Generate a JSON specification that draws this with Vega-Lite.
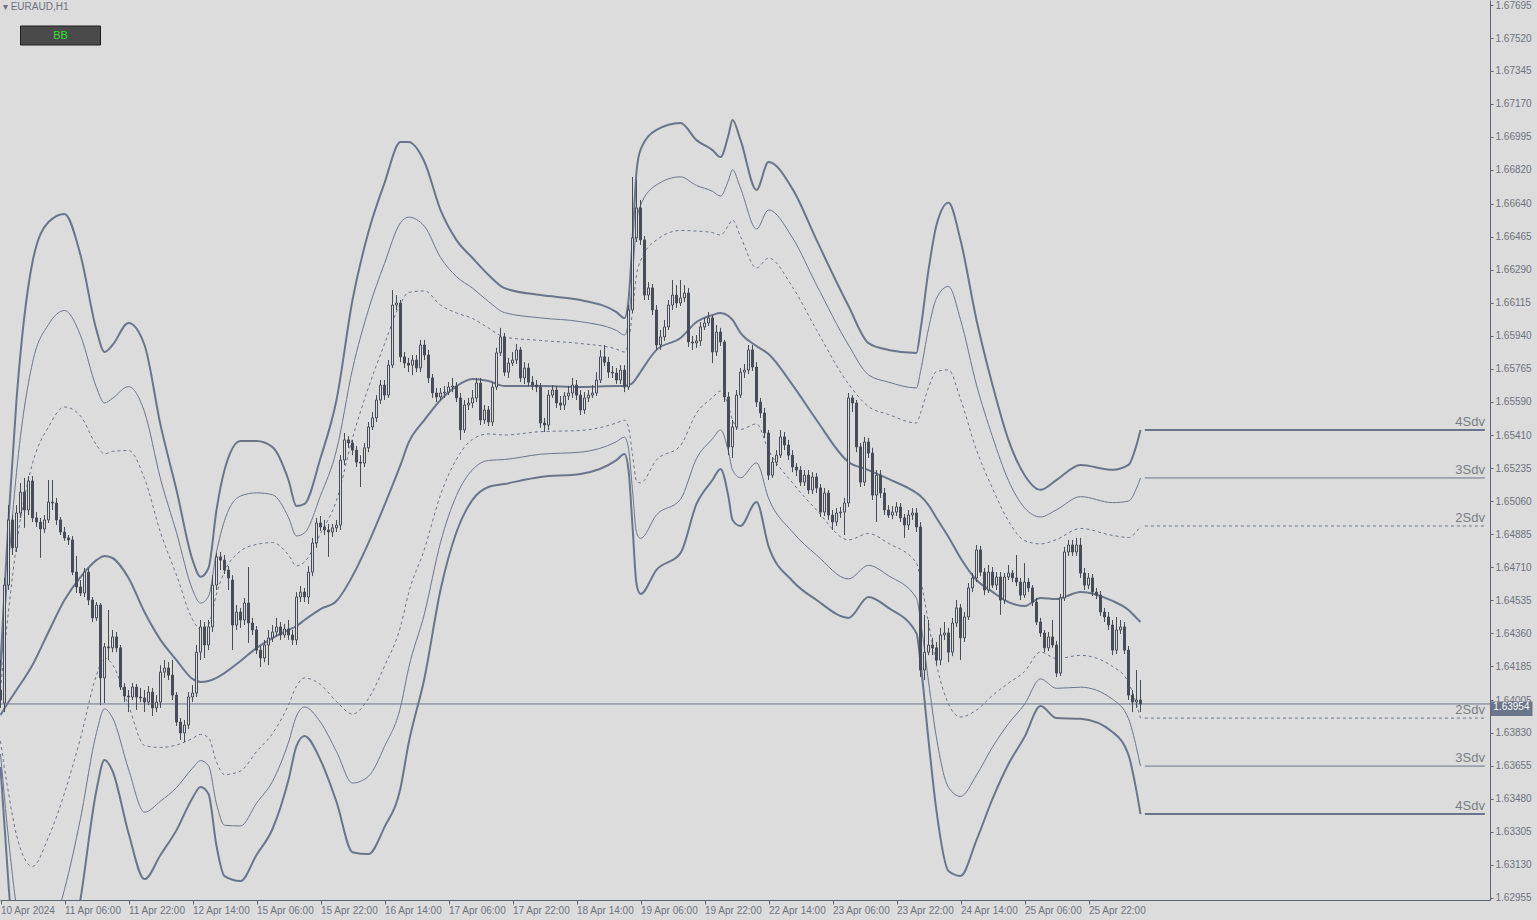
{
"$schema":"https://vega.github.io/schema/vega-lite/v6.json",
"width":1490,"height":900,
"autosize":{"type":"none"},
"padding":{"left":0,"top":0,"right":47,"bottom":20},
"background":"#dcdcdc",
"config":{"view":{"stroke":null},"font":"Liberation Sans","text":{"font":"Liberation Sans"},
 "scale":{"continuousPadding":0},
 "axis":{"labelOverlap":false,"labelSeparation":0,"labelFlush":false,"labelBound":false,"grid":false,"title":null,"labelFont":"Liberation Sans","labelFontSize":10,"labelColor":"#6e727b","tickColor":"#5d6270","domainColor":"#5d6270"}},
"datasets":{
"bands":[
{"t":0,"u4":1.64201,"u3":1.64132,"u2":1.64063,"m":1.63925,"l2":1.63787,"l3":1.63718,"l4":1.63649},
{"t":2,"u4":1.64960,"u3":1.64719,"u2":1.64477,"m":1.63994,"l2":1.63511,"l3":1.63269,"l4":1.63028},
{"t":4,"u4":1.65598,"u3":1.65213,"u2":1.64828,"m":1.64058,"l2":1.63288,"l3":1.62903,"l4":1.62518},
{"t":8,"u4":1.66331,"u3":1.65796,"u2":1.65261,"m":1.64191,"l2":1.63121,"l3":1.62586,"l4":1.62051},
{"t":12,"u4":1.66543,"u3":1.65999,"u2":1.65455,"m":1.64366,"l2":1.63277,"l3":1.62733,"l4":1.62189},
{"t":16,"u4":1.66586,"u3":1.66073,"u2":1.65561,"m":1.64536,"l2":1.63511,"l3":1.62999,"l4":1.62486},
{"t":20,"u4":1.66368,"u3":1.65941,"u2":1.65513,"m":1.64658,"l2":1.63803,"l3":1.63376,"l4":1.62948},
{"t":24,"u4":1.65969,"u3":1.65664,"u2":1.65359,"m":1.64748,"l2":1.64137,"l3":1.63832,"l4":1.63527},
{"t":26,"u4":1.65853,"u3":1.65582,"u2":1.65312,"m":1.64770,"l2":1.64228,"l3":1.63958,"l4":1.63687},
{"t":28,"u4":1.65890,"u3":1.65607,"u2":1.65325,"m":1.64759,"l2":1.64193,"l3":1.63911,"l4":1.63628},
{"t":32,"u4":1.66007,"u3":1.65669,"u2":1.65330,"m":1.64653,"l2":1.63976,"l3":1.63638,"l4":1.63299},
{"t":36,"u4":1.65890,"u3":1.65535,"u2":1.65181,"m":1.64472,"l2":1.63763,"l3":1.63409,"l4":1.63054},
{"t":40,"u4":1.65466,"u3":1.65180,"u2":1.64895,"m":1.64324,"l2":1.63753,"l3":1.63468,"l4":1.63182},
{"t":44,"u4":1.65120,"u3":1.64894,"u2":1.64668,"m":1.64217,"l2":1.63766,"l3":1.63540,"l4":1.63314},
{"t":48,"u4":1.64749,"u3":1.64591,"u2":1.64433,"m":1.64117,"l2":1.63801,"l3":1.63643,"l4":1.63485},
{"t":50,"u4":1.64659,"u3":1.64519,"u2":1.64380,"m":1.64101,"l2":1.63822,"l3":1.63683,"l4":1.63543},
{"t":52,"u4":1.64706,"u3":1.64556,"u2":1.64406,"m":1.64106,"l2":1.63806,"l3":1.63656,"l4":1.63506},
{"t":54,"u4":1.65014,"u3":1.64791,"u2":1.64568,"m":1.64122,"l2":1.63676,"l3":1.63453,"l4":1.63230},
{"t":56,"u4":1.65226,"u3":1.64957,"u2":1.64687,"m":1.64148,"l2":1.63609,"l3":1.63340,"l4":1.63070},
{"t":60,"u4":1.65380,"u3":1.65088,"u2":1.64796,"m":1.64212,"l2":1.63628,"l3":1.63336,"l4":1.63044},
{"t":64,"u4":1.65380,"u3":1.65105,"u2":1.64831,"m":1.64281,"l2":1.63731,"l3":1.63457,"l4":1.63182},
{"t":68,"u4":1.65348,"u3":1.65095,"u2":1.64841,"m":1.64334,"l2":1.63827,"l3":1.63573,"l4":1.63320},
{"t":72,"u4":1.65173,"u3":1.64974,"u2":1.64775,"m":1.64377,"l2":1.63979,"l3":1.63780,"l4":1.63581},
{"t":74,"u4":1.65035,"u3":1.64876,"u2":1.64717,"m":1.64398,"l2":1.64079,"l3":1.63920,"l4":1.63761},
{"t":76,"u4":1.65046,"u3":1.64892,"u2":1.64738,"m":1.64430,"l2":1.64122,"l3":1.63968,"l4":1.63814},
{"t":80,"u4":1.65290,"u3":1.65090,"u2":1.64889,"m":1.64488,"l2":1.64087,"l3":1.63887,"l4":1.63686},
{"t":84,"u4":1.65598,"u3":1.65331,"u2":1.65065,"m":1.64531,"l2":1.63997,"l3":1.63731,"l4":1.63464},
{"t":88,"u4":1.66129,"u3":1.65762,"u2":1.65396,"m":1.64663,"l2":1.63930,"l3":1.63564,"l4":1.63197},
{"t":92,"u4":1.66491,"u3":1.66078,"u2":1.65665,"m":1.64839,"l2":1.64013,"l3":1.63600,"l4":1.63187},
{"t":96,"u4":1.66750,"u3":1.66323,"u2":1.65895,"m":1.65040,"l2":1.64185,"l3":1.63758,"l4":1.63330},
{"t":100,"u4":1.66968,"u3":1.66539,"u2":1.66111,"m":1.65253,"l2":1.64395,"l3":1.63967,"l4":1.63538},
{"t":102,"u4":1.66968,"u3":1.66569,"u2":1.66169,"m":1.65370,"l2":1.64571,"l3":1.64171,"l4":1.63772},
{"t":106,"u4":1.66862,"u3":1.66520,"u2":1.66177,"m":1.65492,"l2":1.64807,"l3":1.64465,"l4":1.64122},
{"t":110,"u4":1.66607,"u3":1.66355,"u2":1.66102,"m":1.65598,"l2":1.65094,"l3":1.64841,"l4":1.64589},
{"t":114,"u4":1.66447,"u3":1.66253,"u2":1.66060,"m":1.65672,"l2":1.65284,"l3":1.65091,"l4":1.64897},
{"t":118,"u4":1.66352,"u3":1.66192,"u2":1.66031,"m":1.65710,"l2":1.65389,"l3":1.65228,"l4":1.65068},
{"t":122,"u4":1.66262,"u3":1.66121,"u2":1.65980,"m":1.65699,"l2":1.65418,"l3":1.65277,"l4":1.65136},
{"t":126,"u4":1.66192,"u3":1.66062,"u2":1.65932,"m":1.65672,"l2":1.65412,"l3":1.65282,"l4":1.65152},
{"t":135,"u4":1.66155,"u3":1.66034,"u2":1.65914,"m":1.65672,"l2":1.65430,"l3":1.65310,"l4":1.65189},
{"t":145,"u4":1.66129,"u3":1.66014,"u2":1.65898,"m":1.65667,"l2":1.65436,"l3":1.65321,"l4":1.65205},
{"t":154,"u4":1.66065,"u3":1.65967,"u2":1.65868,"m":1.65672,"l2":1.65476,"l3":1.65377,"l4":1.65279},
{"t":156,"u4":1.66033,"u3":1.65943,"u2":1.65853,"m":1.65672,"l2":1.65491,"l3":1.65401,"l4":1.65311},
{"t":157,"u4":1.66129,"u3":1.66016,"u2":1.65904,"m":1.65678,"l2":1.65452,"l3":1.65340,"l4":1.65227},
{"t":158,"u4":1.66447,"u3":1.66257,"u2":1.66068,"m":1.65688,"l2":1.65308,"l3":1.65119,"l4":1.64929},
{"t":159,"u4":1.66809,"u3":1.66536,"u2":1.66262,"m":1.65715,"l2":1.65168,"l3":1.64895,"l4":1.64621},
{"t":160,"u4":1.66926,"u3":1.66631,"u2":1.66336,"m":1.65747,"l2":1.65158,"l3":1.64863,"l4":1.64568},
{"t":164,"u4":1.67032,"u3":1.66740,"u2":1.66448,"m":1.65864,"l2":1.65280,"l3":1.64988,"l4":1.64696},
{"t":170,"u4":1.67069,"u3":1.66783,"u2":1.66498,"m":1.65927,"l2":1.65356,"l3":1.65071,"l4":1.64785},
{"t":174,"u4":1.66978,"u3":1.66737,"u2":1.66495,"m":1.66012,"l2":1.65529,"l3":1.65287,"l4":1.65046},
{"t":178,"u4":1.66925,"u3":1.66706,"u2":1.66487,"m":1.66049,"l2":1.65611,"l3":1.65392,"l4":1.65173},
{"t":180,"u4":1.66888,"u3":1.66681,"u2":1.66474,"m":1.66060,"l2":1.65646,"l3":1.65439,"l4":1.65232},
{"t":182,"u4":1.67005,"u3":1.66765,"u2":1.66525,"m":1.66044,"l2":1.65563,"l3":1.65323,"l4":1.65083},
{"t":183,"u4":1.67085,"u3":1.66820,"u2":1.66554,"m":1.66023,"l2":1.65492,"l3":1.65227,"l4":1.64961},
{"t":185,"u4":1.66979,"u3":1.66723,"u2":1.66466,"m":1.65954,"l2":1.65442,"l3":1.65185,"l4":1.64929},
{"t":189,"u4":1.66713,"u3":1.66506,"u2":1.66299,"m":1.65885,"l2":1.65471,"l3":1.65264,"l4":1.65057},
{"t":192,"u4":1.66862,"u3":1.66607,"u2":1.66352,"m":1.65842,"l2":1.65332,"l3":1.65077,"l4":1.64822},
{"t":198,"u4":1.66719,"u3":1.66459,"u2":1.66198,"m":1.65678,"l2":1.65158,"l3":1.64897,"l4":1.64637},
{"t":204,"u4":1.66448,"u3":1.66209,"u2":1.65970,"m":1.65492,"l2":1.65014,"l3":1.64775,"l4":1.64536},
{"t":212,"u4":1.66097,"u3":1.65890,"u2":1.65683,"m":1.65269,"l2":1.64855,"l3":1.64648,"l4":1.64441},
{"t":217,"u4":1.65900,"u3":1.65732,"u2":1.65563,"m":1.65226,"l2":1.64889,"l3":1.64720,"l4":1.64552},
{"t":222,"u4":1.65864,"u3":1.65693,"u2":1.65521,"m":1.65179,"l2":1.64837,"l3":1.64665,"l4":1.64494},
{"t":229,"u4":1.65848,"u3":1.65662,"u2":1.65476,"m":1.65104,"l2":1.64732,"l3":1.64546,"l4":1.64360},
{"t":230,"u4":1.65970,"u3":1.65749,"u2":1.65529,"m":1.65088,"l2":1.64647,"l3":1.64427,"l4":1.64206},
{"t":232,"u4":1.66288,"u3":1.65976,"u2":1.65664,"m":1.65040,"l2":1.64416,"l3":1.64104,"l4":1.63792},
{"t":234,"u4":1.66527,"u3":1.66138,"u2":1.65749,"m":1.64971,"l2":1.64193,"l3":1.63804,"l4":1.63415},
{"t":237,"u4":1.66645,"u3":1.66201,"u2":1.65758,"m":1.64871,"l2":1.63984,"l3":1.63541,"l4":1.63097},
{"t":240,"u4":1.66447,"u3":1.66025,"u2":1.65603,"m":1.64759,"l2":1.63915,"l3":1.63493,"l4":1.63071},
{"t":244,"u4":1.66023,"u3":1.65678,"u2":1.65332,"m":1.64642,"l2":1.63952,"l3":1.63606,"l4":1.63261},
{"t":248,"u4":1.65678,"u3":1.65403,"u2":1.65129,"m":1.64579,"l2":1.64029,"l3":1.63755,"l4":1.63480},
{"t":252,"u4":1.65385,"u3":1.65170,"u2":1.64955,"m":1.64525,"l2":1.64095,"l3":1.63880,"l4":1.63665},
{"t":256,"u4":1.65200,"u3":1.65026,"u2":1.64852,"m":1.64504,"l2":1.64156,"l3":1.63982,"l4":1.63808},
{"t":260,"u4":1.65121,"u3":1.64977,"u2":1.64834,"m":1.64547,"l2":1.64260,"l3":1.64117,"l4":1.63973},
{"t":264,"u4":1.65173,"u3":1.65015,"u2":1.64857,"m":1.64541,"l2":1.64225,"l3":1.64067,"l4":1.63909},
{"t":270,"u4":1.65253,"u3":1.65085,"u2":1.64916,"m":1.64579,"l2":1.64242,"l3":1.64073,"l4":1.63905},
{"t":278,"u4":1.65227,"u3":1.65053,"u2":1.64879,"m":1.64531,"l2":1.64183,"l3":1.64009,"l4":1.63835},
{"t":282,"u4":1.65253,"u3":1.65061,"u2":1.64868,"m":1.64483,"l2":1.64098,"l3":1.63906,"l4":1.63713},
{"t":284,"u4":1.65359,"u3":1.65129,"u2":1.64899,"m":1.64440,"l2":1.63981,"l3":1.63751,"l4":1.63521},
{"t":285,"u4":1.65439,"u3":1.65184,"u2":1.64929,"m":1.64419,"l2":1.63909,"l3":1.63654,"l4":1.63399}
],
"candles":[
{"t":0,"o":1.64058,"h":1.64217,"l":1.63963,"c":1.64005},
{"t":1,"o":1.63989,"h":1.64653,"l":1.63941,"c":1.64615},
{"t":2,"o":1.64615,"h":1.65040,"l":1.64589,"c":1.64961},
{"t":3,"o":1.64961,"h":1.64987,"l":1.64775,"c":1.64813},
{"t":4,"o":1.64813,"h":1.65040,"l":1.64791,"c":1.64998},
{"t":5,"o":1.64998,"h":1.65157,"l":1.64972,"c":1.65109},
{"t":6,"o":1.65109,"h":1.65184,"l":1.64919,"c":1.65014},
{"t":7,"o":1.65014,"h":1.65194,"l":1.64987,"c":1.65168},
{"t":8,"o":1.65168,"h":1.65194,"l":1.64950,"c":1.64972},
{"t":9,"o":1.64972,"h":1.65003,"l":1.64924,"c":1.64950},
{"t":10,"o":1.64950,"h":1.64972,"l":1.64760,"c":1.64913},
{"t":11,"o":1.64913,"h":1.64987,"l":1.64892,"c":1.64961},
{"t":12,"o":1.64961,"h":1.65173,"l":1.64945,"c":1.65056},
{"t":13,"o":1.65056,"h":1.65173,"l":1.65014,"c":1.65051},
{"t":14,"o":1.65051,"h":1.65078,"l":1.64934,"c":1.64961},
{"t":15,"o":1.64961,"h":1.64977,"l":1.64881,"c":1.64897},
{"t":16,"o":1.64897,"h":1.64924,"l":1.64850,"c":1.64866},
{"t":17,"o":1.64866,"h":1.64881,"l":1.64828,"c":1.64855},
{"t":18,"o":1.64855,"h":1.64876,"l":1.64668,"c":1.64684},
{"t":19,"o":1.64684,"h":1.64770,"l":1.64573,"c":1.64605},
{"t":20,"o":1.64605,"h":1.64642,"l":1.64557,"c":1.64573},
{"t":21,"o":1.64573,"h":1.64706,"l":1.64552,"c":1.64684},
{"t":22,"o":1.64684,"h":1.64706,"l":1.64509,"c":1.64536},
{"t":23,"o":1.64536,"h":1.64552,"l":1.64419,"c":1.64441},
{"t":24,"o":1.64441,"h":1.64525,"l":1.64425,"c":1.64509},
{"t":25,"o":1.64509,"h":1.64520,"l":1.63978,"c":1.64122},
{"t":26,"o":1.64122,"h":1.64308,"l":1.63989,"c":1.64287},
{"t":27,"o":1.64287,"h":1.64483,"l":1.64217,"c":1.64282},
{"t":28,"o":1.64282,"h":1.64377,"l":1.64259,"c":1.64340},
{"t":29,"o":1.64340,"h":1.64366,"l":1.64259,"c":1.64282},
{"t":30,"o":1.64282,"h":1.64297,"l":1.64058,"c":1.64074},
{"t":31,"o":1.64074,"h":1.64095,"l":1.63994,"c":1.64026},
{"t":32,"o":1.64026,"h":1.64058,"l":1.63941,"c":1.64021},
{"t":33,"o":1.64021,"h":1.64095,"l":1.64005,"c":1.64074},
{"t":34,"o":1.64074,"h":1.64090,"l":1.63952,"c":1.64021},
{"t":35,"o":1.64021,"h":1.64069,"l":1.63994,"c":1.64016},
{"t":36,"o":1.64016,"h":1.64058,"l":1.63941,"c":1.63994},
{"t":37,"o":1.63994,"h":1.64079,"l":1.63978,"c":1.64047},
{"t":38,"o":1.64047,"h":1.64069,"l":1.63920,"c":1.63963},
{"t":39,"o":1.63963,"h":1.64031,"l":1.63941,"c":1.63994},
{"t":40,"o":1.63994,"h":1.64190,"l":1.63963,"c":1.64153},
{"t":41,"o":1.64153,"h":1.64217,"l":1.64122,"c":1.64175},
{"t":42,"o":1.64175,"h":1.64206,"l":1.64111,"c":1.64137},
{"t":43,"o":1.64137,"h":1.64217,"l":1.64005,"c":1.64031},
{"t":44,"o":1.64031,"h":1.64047,"l":1.63867,"c":1.63888},
{"t":45,"o":1.63888,"h":1.63910,"l":1.63793,"c":1.63830},
{"t":46,"o":1.63830,"h":1.63899,"l":1.63782,"c":1.63872},
{"t":47,"o":1.63872,"h":1.64047,"l":1.63851,"c":1.64021},
{"t":48,"o":1.64021,"h":1.64084,"l":1.63994,"c":1.64042},
{"t":49,"o":1.64042,"h":1.64297,"l":1.64021,"c":1.64259},
{"t":50,"o":1.64259,"h":1.64430,"l":1.64217,"c":1.64393},
{"t":51,"o":1.64393,"h":1.64419,"l":1.64228,"c":1.64297},
{"t":52,"o":1.64297,"h":1.64430,"l":1.64270,"c":1.64393},
{"t":53,"o":1.64393,"h":1.64668,"l":1.64366,"c":1.64615},
{"t":54,"o":1.64615,"h":1.64786,"l":1.64589,"c":1.64765},
{"t":55,"o":1.64765,"h":1.64791,"l":1.64695,"c":1.64748},
{"t":56,"o":1.64748,"h":1.64775,"l":1.64674,"c":1.64695},
{"t":57,"o":1.64695,"h":1.64716,"l":1.64589,"c":1.64653},
{"t":58,"o":1.64642,"h":1.64668,"l":1.64270,"c":1.64403},
{"t":59,"o":1.64403,"h":1.64509,"l":1.64377,"c":1.64472},
{"t":60,"o":1.64472,"h":1.64494,"l":1.64388,"c":1.64430},
{"t":61,"o":1.64430,"h":1.64547,"l":1.64403,"c":1.64520},
{"t":62,"o":1.64520,"h":1.64711,"l":1.64308,"c":1.64414},
{"t":63,"o":1.64414,"h":1.64441,"l":1.64350,"c":1.64377},
{"t":64,"o":1.64377,"h":1.64398,"l":1.64249,"c":1.64270},
{"t":65,"o":1.64270,"h":1.64292,"l":1.64180,"c":1.64228},
{"t":66,"o":1.64228,"h":1.64324,"l":1.64206,"c":1.64297},
{"t":67,"o":1.64297,"h":1.64377,"l":1.64190,"c":1.64335},
{"t":68,"o":1.64335,"h":1.64403,"l":1.64313,"c":1.64366},
{"t":69,"o":1.64366,"h":1.64441,"l":1.64345,"c":1.64393},
{"t":70,"o":1.64393,"h":1.64419,"l":1.64324,"c":1.64350},
{"t":71,"o":1.64350,"h":1.64409,"l":1.64335,"c":1.64382},
{"t":72,"o":1.64382,"h":1.64430,"l":1.64324,"c":1.64350},
{"t":73,"o":1.64350,"h":1.64377,"l":1.64297,"c":1.64324},
{"t":74,"o":1.64324,"h":1.64578,"l":1.64297,"c":1.64552},
{"t":75,"o":1.64552,"h":1.64610,"l":1.64525,"c":1.64578},
{"t":76,"o":1.64578,"h":1.64600,"l":1.64525,"c":1.64552},
{"t":77,"o":1.64552,"h":1.64716,"l":1.64515,"c":1.64684},
{"t":78,"o":1.64684,"h":1.64866,"l":1.64663,"c":1.64839},
{"t":79,"o":1.64839,"h":1.64972,"l":1.64813,"c":1.64945},
{"t":80,"o":1.64945,"h":1.64982,"l":1.64903,"c":1.64924},
{"t":81,"o":1.64924,"h":1.64961,"l":1.64881,"c":1.64908},
{"t":82,"o":1.64908,"h":1.64940,"l":1.64765,"c":1.64897},
{"t":83,"o":1.64897,"h":1.64940,"l":1.64871,"c":1.64919},
{"t":84,"o":1.64919,"h":1.64961,"l":1.64897,"c":1.64934},
{"t":85,"o":1.64934,"h":1.65305,"l":1.64908,"c":1.65279},
{"t":86,"o":1.65279,"h":1.65423,"l":1.65252,"c":1.65386},
{"t":87,"o":1.65386,"h":1.65407,"l":1.65344,"c":1.65370},
{"t":88,"o":1.65370,"h":1.65386,"l":1.65305,"c":1.65332},
{"t":89,"o":1.65332,"h":1.65354,"l":1.65242,"c":1.65268},
{"t":90,"o":1.65268,"h":1.65305,"l":1.65136,"c":1.65263},
{"t":91,"o":1.65263,"h":1.65370,"l":1.65242,"c":1.65344},
{"t":92,"o":1.65344,"h":1.65481,"l":1.65321,"c":1.65455},
{"t":93,"o":1.65455,"h":1.65534,"l":1.65439,"c":1.65503},
{"t":94,"o":1.65503,"h":1.65624,"l":1.65481,"c":1.65598},
{"t":95,"o":1.65598,"h":1.65704,"l":1.65577,"c":1.65677},
{"t":96,"o":1.65677,"h":1.65704,"l":1.65598,"c":1.65624},
{"t":97,"o":1.65624,"h":1.65810,"l":1.65609,"c":1.65783},
{"t":98,"o":1.65783,"h":1.66182,"l":1.65768,"c":1.66102},
{"t":99,"o":1.66102,"h":1.66155,"l":1.66076,"c":1.66113},
{"t":100,"o":1.66113,"h":1.66129,"l":1.65799,"c":1.65827},
{"t":101,"o":1.65827,"h":1.65853,"l":1.65768,"c":1.65794},
{"t":102,"o":1.65794,"h":1.65822,"l":1.65746,"c":1.65783},
{"t":103,"o":1.65783,"h":1.65837,"l":1.65730,"c":1.65810},
{"t":104,"o":1.65810,"h":1.65837,"l":1.65746,"c":1.65768},
{"t":105,"o":1.65768,"h":1.65917,"l":1.65746,"c":1.65890},
{"t":106,"o":1.65890,"h":1.65917,"l":1.65810,"c":1.65837},
{"t":107,"o":1.65837,"h":1.65864,"l":1.65688,"c":1.65715},
{"t":108,"o":1.65715,"h":1.65736,"l":1.65609,"c":1.65635},
{"t":109,"o":1.65635,"h":1.65662,"l":1.65587,"c":1.65614},
{"t":110,"o":1.65614,"h":1.65662,"l":1.65598,"c":1.65635},
{"t":111,"o":1.65635,"h":1.65672,"l":1.65609,"c":1.65640},
{"t":112,"o":1.65640,"h":1.65693,"l":1.65624,"c":1.65667},
{"t":113,"o":1.65667,"h":1.65715,"l":1.65640,"c":1.65672},
{"t":114,"o":1.65672,"h":1.65693,"l":1.65587,"c":1.65609},
{"t":115,"o":1.65609,"h":1.65635,"l":1.65386,"c":1.65439},
{"t":116,"o":1.65439,"h":1.65598,"l":1.65423,"c":1.65571},
{"t":117,"o":1.65571,"h":1.65609,"l":1.65545,"c":1.65582},
{"t":118,"o":1.65582,"h":1.65651,"l":1.65556,"c":1.65609},
{"t":119,"o":1.65609,"h":1.65715,"l":1.65587,"c":1.65688},
{"t":120,"o":1.65688,"h":1.65715,"l":1.65465,"c":1.65492},
{"t":121,"o":1.65492,"h":1.65571,"l":1.65471,"c":1.65545},
{"t":122,"o":1.65545,"h":1.65566,"l":1.65460,"c":1.65481},
{"t":123,"o":1.65481,"h":1.65693,"l":1.65460,"c":1.65667},
{"t":124,"o":1.65667,"h":1.65875,"l":1.65651,"c":1.65848},
{"t":125,"o":1.65848,"h":1.65981,"l":1.65832,"c":1.65933},
{"t":126,"o":1.65933,"h":1.65954,"l":1.65725,"c":1.65746},
{"t":127,"o":1.65746,"h":1.65822,"l":1.65715,"c":1.65794},
{"t":128,"o":1.65794,"h":1.65853,"l":1.65778,"c":1.65810},
{"t":129,"o":1.65810,"h":1.65896,"l":1.65789,"c":1.65864},
{"t":130,"o":1.65864,"h":1.65880,"l":1.65693,"c":1.65715},
{"t":131,"o":1.65715,"h":1.65799,"l":1.65683,"c":1.65768},
{"t":132,"o":1.65768,"h":1.65794,"l":1.65672,"c":1.65693},
{"t":133,"o":1.65693,"h":1.65725,"l":1.65651,"c":1.65677},
{"t":134,"o":1.65677,"h":1.65704,"l":1.65640,"c":1.65667},
{"t":135,"o":1.65667,"h":1.65688,"l":1.65450,"c":1.65476},
{"t":136,"o":1.65476,"h":1.65503,"l":1.65428,"c":1.65465},
{"t":137,"o":1.65465,"h":1.65651,"l":1.65439,"c":1.65624},
{"t":138,"o":1.65624,"h":1.65677,"l":1.65609,"c":1.65651},
{"t":139,"o":1.65651,"h":1.65672,"l":1.65556,"c":1.65582},
{"t":140,"o":1.65582,"h":1.65619,"l":1.65545,"c":1.65571},
{"t":141,"o":1.65571,"h":1.65640,"l":1.65545,"c":1.65619},
{"t":142,"o":1.65619,"h":1.65672,"l":1.65598,"c":1.65635},
{"t":143,"o":1.65635,"h":1.65715,"l":1.65609,"c":1.65677},
{"t":144,"o":1.65677,"h":1.65704,"l":1.65598,"c":1.65624},
{"t":145,"o":1.65624,"h":1.65651,"l":1.65518,"c":1.65545},
{"t":146,"o":1.65545,"h":1.65640,"l":1.65524,"c":1.65609},
{"t":147,"o":1.65609,"h":1.65651,"l":1.65587,"c":1.65624},
{"t":148,"o":1.65624,"h":1.65677,"l":1.65609,"c":1.65635},
{"t":149,"o":1.65635,"h":1.65746,"l":1.65619,"c":1.65704},
{"t":150,"o":1.65704,"h":1.65864,"l":1.65688,"c":1.65827},
{"t":151,"o":1.65827,"h":1.65890,"l":1.65778,"c":1.65799},
{"t":152,"o":1.65799,"h":1.65827,"l":1.65715,"c":1.65746},
{"t":153,"o":1.65746,"h":1.65778,"l":1.65715,"c":1.65741},
{"t":154,"o":1.65741,"h":1.65768,"l":1.65683,"c":1.65704},
{"t":155,"o":1.65704,"h":1.65783,"l":1.65683,"c":1.65757},
{"t":156,"o":1.65757,"h":1.65783,"l":1.65640,"c":1.65667},
{"t":157,"o":1.65667,"h":1.66102,"l":1.65651,"c":1.66076},
{"t":158,"o":1.66076,"h":1.66782,"l":1.66060,"c":1.66459},
{"t":159,"o":1.66459,"h":1.66766,"l":1.66437,"c":1.66618},
{"t":160,"o":1.66618,"h":1.66660,"l":1.66421,"c":1.66448},
{"t":161,"o":1.66448,"h":1.66469,"l":1.66129,"c":1.66155},
{"t":162,"o":1.66155,"h":1.66224,"l":1.66129,"c":1.66193},
{"t":163,"o":1.66193,"h":1.66214,"l":1.66049,"c":1.66076},
{"t":164,"o":1.66076,"h":1.66102,"l":1.65864,"c":1.65890},
{"t":165,"o":1.65890,"h":1.65970,"l":1.65864,"c":1.65933},
{"t":166,"o":1.65933,"h":1.66023,"l":1.65912,"c":1.65986},
{"t":167,"o":1.65986,"h":1.66129,"l":1.65970,"c":1.66102},
{"t":168,"o":1.66102,"h":1.66235,"l":1.66076,"c":1.66155},
{"t":169,"o":1.66155,"h":1.66208,"l":1.66087,"c":1.66113},
{"t":170,"o":1.66113,"h":1.66235,"l":1.66097,"c":1.66140},
{"t":171,"o":1.66140,"h":1.66208,"l":1.66118,"c":1.66166},
{"t":172,"o":1.66166,"h":1.66193,"l":1.65880,"c":1.65906},
{"t":173,"o":1.65906,"h":1.65938,"l":1.65864,"c":1.65901},
{"t":174,"o":1.65901,"h":1.65943,"l":1.65875,"c":1.65912},
{"t":175,"o":1.65912,"h":1.66012,"l":1.65885,"c":1.65986},
{"t":176,"o":1.65986,"h":1.66034,"l":1.65970,"c":1.66007},
{"t":177,"o":1.66007,"h":1.66065,"l":1.65991,"c":1.66034},
{"t":178,"o":1.66034,"h":1.66049,"l":1.65794,"c":1.65853},
{"t":179,"o":1.65853,"h":1.65996,"l":1.65832,"c":1.65959},
{"t":180,"o":1.65959,"h":1.65981,"l":1.65885,"c":1.65906},
{"t":181,"o":1.65906,"h":1.65917,"l":1.65587,"c":1.65614},
{"t":182,"o":1.65614,"h":1.65640,"l":1.65305,"c":1.65349},
{"t":183,"o":1.65349,"h":1.65492,"l":1.65290,"c":1.65455},
{"t":184,"o":1.65455,"h":1.65651,"l":1.65439,"c":1.65624},
{"t":185,"o":1.65624,"h":1.65768,"l":1.65609,"c":1.65746},
{"t":186,"o":1.65746,"h":1.65789,"l":1.65715,"c":1.65757},
{"t":187,"o":1.65757,"h":1.65890,"l":1.65736,"c":1.65864},
{"t":188,"o":1.65864,"h":1.65890,"l":1.65752,"c":1.65773},
{"t":189,"o":1.65773,"h":1.65799,"l":1.65561,"c":1.65587},
{"t":190,"o":1.65587,"h":1.65609,"l":1.65503,"c":1.65529},
{"t":191,"o":1.65529,"h":1.65556,"l":1.65397,"c":1.65423},
{"t":192,"o":1.65423,"h":1.65439,"l":1.65173,"c":1.65199},
{"t":193,"o":1.65199,"h":1.65295,"l":1.65184,"c":1.65268},
{"t":194,"o":1.65268,"h":1.65332,"l":1.65247,"c":1.65305},
{"t":195,"o":1.65305,"h":1.65439,"l":1.65290,"c":1.65402},
{"t":196,"o":1.65402,"h":1.65428,"l":1.65332,"c":1.65359},
{"t":197,"o":1.65359,"h":1.65386,"l":1.65279,"c":1.65305},
{"t":198,"o":1.65305,"h":1.65332,"l":1.65215,"c":1.65242},
{"t":199,"o":1.65242,"h":1.65263,"l":1.65194,"c":1.65226},
{"t":200,"o":1.65226,"h":1.65247,"l":1.65141,"c":1.65162},
{"t":201,"o":1.65162,"h":1.65226,"l":1.65141,"c":1.65199},
{"t":202,"o":1.65199,"h":1.65226,"l":1.65099,"c":1.65120},
{"t":203,"o":1.65120,"h":1.65215,"l":1.65099,"c":1.65189},
{"t":204,"o":1.65189,"h":1.65210,"l":1.65104,"c":1.65131},
{"t":205,"o":1.65131,"h":1.65152,"l":1.64977,"c":1.65003},
{"t":206,"o":1.65003,"h":1.65131,"l":1.64982,"c":1.65104},
{"t":207,"o":1.65104,"h":1.65120,"l":1.64961,"c":1.64987},
{"t":208,"o":1.64987,"h":1.65014,"l":1.64908,"c":1.64950},
{"t":209,"o":1.64950,"h":1.65024,"l":1.64929,"c":1.64998},
{"t":210,"o":1.64998,"h":1.65030,"l":1.64972,"c":1.65003},
{"t":211,"o":1.65003,"h":1.65078,"l":1.64881,"c":1.65051},
{"t":212,"o":1.65051,"h":1.65635,"l":1.65030,"c":1.65609},
{"t":213,"o":1.65609,"h":1.65624,"l":1.65534,"c":1.65582},
{"t":214,"o":1.65582,"h":1.65598,"l":1.65321,"c":1.65349},
{"t":215,"o":1.65349,"h":1.65370,"l":1.65136,"c":1.65162},
{"t":216,"o":1.65162,"h":1.65402,"l":1.65141,"c":1.65375},
{"t":217,"o":1.65375,"h":1.65397,"l":1.65290,"c":1.65316},
{"t":218,"o":1.65316,"h":1.65344,"l":1.65067,"c":1.65093},
{"t":219,"o":1.65093,"h":1.65226,"l":1.64950,"c":1.65199},
{"t":220,"o":1.65199,"h":1.65226,"l":1.65078,"c":1.65104},
{"t":221,"o":1.65104,"h":1.65131,"l":1.64987,"c":1.65014},
{"t":222,"o":1.65014,"h":1.65040,"l":1.64972,"c":1.64987},
{"t":223,"o":1.64987,"h":1.65035,"l":1.64966,"c":1.65003},
{"t":224,"o":1.65003,"h":1.65056,"l":1.64982,"c":1.65030},
{"t":225,"o":1.65030,"h":1.65051,"l":1.64950,"c":1.64972},
{"t":226,"o":1.64972,"h":1.64993,"l":1.64866,"c":1.64934},
{"t":227,"o":1.64934,"h":1.65014,"l":1.64908,"c":1.64987},
{"t":228,"o":1.64987,"h":1.65024,"l":1.64961,"c":1.64998},
{"t":229,"o":1.64998,"h":1.65024,"l":1.64897,"c":1.64924},
{"t":230,"o":1.64924,"h":1.64950,"l":1.64127,"c":1.64164},
{"t":231,"o":1.64164,"h":1.64457,"l":1.64111,"c":1.64259},
{"t":232,"o":1.64259,"h":1.64430,"l":1.64243,"c":1.64297},
{"t":233,"o":1.64297,"h":1.64335,"l":1.64243,"c":1.64282},
{"t":234,"o":1.64282,"h":1.64313,"l":1.64190,"c":1.64217},
{"t":235,"o":1.64217,"h":1.64388,"l":1.64190,"c":1.64350},
{"t":236,"o":1.64350,"h":1.64419,"l":1.64324,"c":1.64361},
{"t":237,"o":1.64361,"h":1.64388,"l":1.64206,"c":1.64259},
{"t":238,"o":1.64259,"h":1.64441,"l":1.64238,"c":1.64414},
{"t":239,"o":1.64414,"h":1.64536,"l":1.64393,"c":1.64494},
{"t":240,"o":1.64494,"h":1.64515,"l":1.64217,"c":1.64335},
{"t":241,"o":1.64335,"h":1.64472,"l":1.64313,"c":1.64446},
{"t":242,"o":1.64446,"h":1.64626,"l":1.64430,"c":1.64600},
{"t":243,"o":1.64600,"h":1.64679,"l":1.64578,"c":1.64653},
{"t":244,"o":1.64653,"h":1.64828,"l":1.64631,"c":1.64802},
{"t":245,"o":1.64802,"h":1.64823,"l":1.64663,"c":1.64684},
{"t":246,"o":1.64684,"h":1.64706,"l":1.64562,"c":1.64589},
{"t":247,"o":1.64589,"h":1.64722,"l":1.64573,"c":1.64684},
{"t":248,"o":1.64684,"h":1.64711,"l":1.64600,"c":1.64615},
{"t":249,"o":1.64615,"h":1.64684,"l":1.64589,"c":1.64658},
{"t":250,"o":1.64658,"h":1.64684,"l":1.64457,"c":1.64536},
{"t":251,"o":1.64536,"h":1.64679,"l":1.64515,"c":1.64658},
{"t":252,"o":1.64658,"h":1.64722,"l":1.64642,"c":1.64679},
{"t":253,"o":1.64679,"h":1.64695,"l":1.64631,"c":1.64653},
{"t":254,"o":1.64653,"h":1.64775,"l":1.64610,"c":1.64631},
{"t":255,"o":1.64631,"h":1.64653,"l":1.64536,"c":1.64562},
{"t":256,"o":1.64562,"h":1.64732,"l":1.64547,"c":1.64631},
{"t":257,"o":1.64631,"h":1.64653,"l":1.64578,"c":1.64600},
{"t":258,"o":1.64600,"h":1.64615,"l":1.64504,"c":1.64525},
{"t":259,"o":1.64525,"h":1.64547,"l":1.64403,"c":1.64419},
{"t":260,"o":1.64419,"h":1.64441,"l":1.64340,"c":1.64361},
{"t":261,"o":1.64361,"h":1.64377,"l":1.64259,"c":1.64282},
{"t":262,"o":1.64282,"h":1.64366,"l":1.64265,"c":1.64340},
{"t":263,"o":1.64340,"h":1.64430,"l":1.64282,"c":1.64297},
{"t":264,"o":1.64297,"h":1.64319,"l":1.64127,"c":1.64148},
{"t":265,"o":1.64148,"h":1.64568,"l":1.64132,"c":1.64547},
{"t":266,"o":1.64547,"h":1.64818,"l":1.64531,"c":1.64791},
{"t":267,"o":1.64791,"h":1.64855,"l":1.64770,"c":1.64828},
{"t":268,"o":1.64828,"h":1.64855,"l":1.64770,"c":1.64791},
{"t":269,"o":1.64791,"h":1.64866,"l":1.64770,"c":1.64828},
{"t":270,"o":1.64828,"h":1.64866,"l":1.64653,"c":1.64679},
{"t":271,"o":1.64679,"h":1.64706,"l":1.64589,"c":1.64615},
{"t":272,"o":1.64615,"h":1.64679,"l":1.64594,"c":1.64653},
{"t":273,"o":1.64653,"h":1.64674,"l":1.64557,"c":1.64578},
{"t":274,"o":1.64578,"h":1.64600,"l":1.64541,"c":1.64562},
{"t":275,"o":1.64562,"h":1.64584,"l":1.64451,"c":1.64472},
{"t":276,"o":1.64472,"h":1.64494,"l":1.64419,"c":1.64446},
{"t":277,"o":1.64446,"h":1.64472,"l":1.64377,"c":1.64403},
{"t":278,"o":1.64403,"h":1.64430,"l":1.64243,"c":1.64270},
{"t":279,"o":1.64270,"h":1.64446,"l":1.64249,"c":1.64377},
{"t":280,"o":1.64377,"h":1.64430,"l":1.64356,"c":1.64393},
{"t":281,"o":1.64393,"h":1.64419,"l":1.64249,"c":1.64270},
{"t":282,"o":1.64270,"h":1.64292,"l":1.64005,"c":1.64031},
{"t":283,"o":1.64031,"h":1.64058,"l":1.63941,"c":1.63994},
{"t":284,"o":1.63994,"h":1.64164,"l":1.63963,"c":1.64005},
{"t":285,"o":1.64005,"h":1.64111,"l":1.63941,"c":1.63984}
],
"ext":[
{"lab":"4Sdv","v":1.65439},{"lab":"3Sdv","v":1.65184},{"lab":"2Sdv","v":1.64929},
{"lab":"2Sdv","v":1.63909},{"lab":"3Sdv","v":1.63654},{"lab":"4Sdv","v":1.63399}
],
"bid":[{"price":1.63984,"label":"1.63954"}],
"header":[{"symbol":"▾   EURAUD,H1","button":"BB"}]
},
"layer":[
{"data":{"name":"bands"},"transform":[{"fold":["u4","m","l4"],"as":["band","v"]}],
 "mark":{"type":"line","strokeWidth":2,"color":"#6b7589","interpolate":"monotone","clip":true},
 "encoding":{
  "x":{"field":"t","type":"quantitative","scale":{"domain":[-0.125,372.375],"nice":false,"zero":false,"padding":0},
   "axis":{"orient":"bottom","title":null,"grid":false,"values":[0,16,32,48,64,80,96,112,128,144,160,176,192,208,224,240,256,272],"tickCount":40,
    "labelExpr":"['10 Apr 2024','11 Apr 06:00','11 Apr 22:00','12 Apr 14:00','15 Apr 06:00','15 Apr 22:00','16 Apr 14:00','17 Apr 06:00','17 Apr 22:00','18 Apr 14:00','19 Apr 06:00','19 Apr 22:00','22 Apr 14:00','23 Apr 06:00','23 Apr 22:00','24 Apr 14:00','25 Apr 06:00','25 Apr 22:00'][round(datum.value/16)]",
    "labelAlign":"left","labelBaseline":"top","labelPadding":1,"labelOffset":0,"tickSize":4,"labelOverlap":false}},
  "y":{"field":"v","type":"quantitative","scale":{"domain":[1.62943,1.67722],"nice":false,"zero":false,"padding":0},
   "axis":{"orient":"right","title":null,"grid":false,"format":".5f","tickCount":60,
    "values":[1.67695,1.6752,1.67345,1.6717,1.66995,1.6682,1.6664,1.66465,1.6629,1.66115,1.6594,1.65765,1.6559,1.6541,1.65235,1.6506,1.64885,1.6471,1.64535,1.6436,1.64185,1.64005,1.6383,1.63655,1.6348,1.63305,1.6313,1.62955],
    "labelPadding":2,"tickSize":3,"labelOverlap":false}},
  "detail":{"field":"band"}}},
{"data":{"name":"bands"},"transform":[{"fold":["u3","l3"],"as":["band","v"]}],
 "mark":{"type":"line","strokeWidth":1,"color":"#6b7589","interpolate":"monotone","clip":true},
 "encoding":{"x":{"field":"t","type":"quantitative"},
  "y":{"field":"v","type":"quantitative"},
  "detail":{"field":"band"}}},
{"data":{"name":"bands"},"transform":[{"fold":["u2","l2"],"as":["band","v"]}],
 "mark":{"type":"line","strokeWidth":1,"color":"#6b7589","strokeDash":[3,3],"interpolate":"monotone","clip":true},
 "encoding":{"x":{"field":"t","type":"quantitative"},
  "y":{"field":"v","type":"quantitative"},
  "detail":{"field":"band"}}},
{"data":{"name":"ext"},"transform":[{"filter":"datum.lab == '4Sdv'"}],
 "mark":{"type":"rule","strokeWidth":2,"color":"#6b7589"},
 "encoding":{"x":{"datum":286.1,"type":"quantitative"},"x2":{"datum":371.1},
  "y":{"field":"v","type":"quantitative"}}},
{"data":{"name":"ext"},"transform":[{"filter":"datum.lab == '3Sdv'"}],
 "mark":{"type":"rule","strokeWidth":1,"color":"#6b7589"},
 "encoding":{"x":{"datum":286.1,"type":"quantitative"},"x2":{"datum":371.1},
  "y":{"field":"v","type":"quantitative"}}},
{"data":{"name":"ext"},"transform":[{"filter":"datum.lab == '2Sdv'"}],
 "mark":{"type":"rule","strokeWidth":1,"color":"#6b7589","strokeDash":[3,3]},
 "encoding":{"x":{"datum":286.1,"type":"quantitative"},"x2":{"datum":371.1},
  "y":{"field":"v","type":"quantitative"}}},
{"data":{"name":"ext"},
 "mark":{"type":"text","align":"right","baseline":"bottom","dy":-1,"fontSize":13,"color":"#7a7c82","font":"Liberation Sans"},
 "encoding":{"x":{"datum":371.1,"type":"quantitative"},
  "y":{"field":"v","type":"quantitative"},
  "text":{"field":"lab"}}},
{"data":{"name":"bid"},
 "mark":{"type":"rule","strokeWidth":1,"color":"#6b7589"},
 "encoding":{"y":{"field":"price","type":"quantitative"}}},
{"data":{"name":"candles"},
 "mark":{"type":"rule","strokeWidth":1,"color":"#474c56"},
 "encoding":{"x":{"field":"t","type":"quantitative"},
  "y":{"field":"l","type":"quantitative"},
  "y2":{"field":"h"}}},
{"data":{"name":"candles"},"transform":[{"filter":"datum.c > datum.o"}],
 "mark":{"type":"bar","width":2,"fill":"#dcdcdc","stroke":"#474c56","strokeWidth":1},
 "encoding":{"x":{"field":"t","type":"quantitative"},
  "y":{"field":"o","type":"quantitative"},
  "y2":{"field":"c"}}},
{"data":{"name":"candles"},"transform":[{"filter":"datum.c <= datum.o"}],
 "mark":{"type":"bar","width":2,"fill":"#474c56","stroke":"#474c56","strokeWidth":1},
 "encoding":{"x":{"field":"t","type":"quantitative"},
  "y":{"field":"o","type":"quantitative"},
  "y2":{"field":"c"}}},
{"data":{"name":"bid"},
 "mark":{"type":"rect","fill":"#6b7589"},
 "encoding":{"x":{"datum":372.5,"type":"quantitative"},"x2":{"datum":383.0},
  "y":{"datum":1.63997,"type":"quantitative"},"y2":{"datum":1.63920}}},
{"data":{"name":"bid"},
 "mark":{"type":"text","align":"left","baseline":"middle","dy":3,"fontSize":10,"color":"#ffffff","font":"Liberation Sans"},
 "encoding":{"x":{"datum":373.2,"type":"quantitative"},
  "y":{"field":"price","type":"quantitative"},
  "text":{"field":"label"}}},
{"data":{"name":"header"},
 "mark":{"type":"text","align":"left","baseline":"middle","fontSize":10,"color":"#6e727b","font":"Liberation Sans, DejaVu Sans"},
 "encoding":{"x":{"datum":0.6,"type":"quantitative"},
  "y":{"datum":1.67685,"type":"quantitative"},
  "text":{"field":"symbol"}}},
{"data":{"name":"header"},
 "mark":{"type":"rect","fill":"#4a4a4a","stroke":"#1f1f1f","strokeWidth":1},
 "encoding":{"x":{"datum":5.0,"type":"quantitative"},"x2":{"datum":25.0},
  "y":{"datum":1.67584,"type":"quantitative"},"y2":{"datum":1.67483}}},
{"data":{"name":"header"},
 "mark":{"type":"text","align":"center","baseline":"middle","fontSize":11,"color":"#2fe02f","font":"Liberation Sans"},
 "encoding":{"x":{"datum":15.0,"type":"quantitative"},
  "y":{"datum":1.67533,"type":"quantitative"},
  "text":{"field":"button"}}}
]
}
